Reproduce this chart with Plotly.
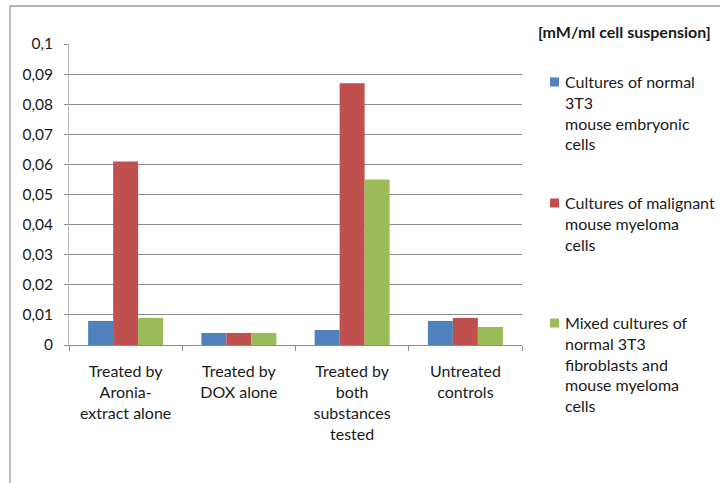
import plotly.graph_objects as go

categories = [
    "Treated by<br>Aronia-<br>extract alone",
    "Treated by<br>DOX alone",
    "Treated by<br>both<br>substances<br>tested",
    "Untreated<br>controls",
]
series_names = [
    "Cultures of normal<br>3T3<br>mouse embryonic<br>cells",
    "Cultures of malignant<br>mouse myeloma<br>cells",
    "Mixed cultures of<br>normal 3T3<br>fibroblasts and<br>mouse myeloma<br>cells",
]
normal_3t3 = [0.008, 0.004, 0.005, 0.008]
malignant_myeloma = [0.061, 0.004, 0.087, 0.009]
mixed_cultures = [0.009, 0.004, 0.055, 0.006]
series_values = [normal_3t3, malignant_myeloma, mixed_cultures]
colors = ["#4F81BD", "#C0504D", "#9BBB59"]

y_tickvals = [0, 0.01, 0.02, 0.03, 0.04, 0.05, 0.06, 0.07, 0.08, 0.09, 0.1]
y_ticktext = ["0", "0,01", "0,02", "0,03", "0,04", "0,05", "0,06", "0,07", "0,08", "0,09", "0,1"]
unit_label = "[mM/ml cell suspension]"

W, H = 720, 483
L, R, T, B = 69, 198, 44, 138
pw, ph = W - L - R, H - T - B

def px_x(x):
    return (x - L) / pw

def px_y(y):
    return (H - B - y) / ph

FONT = "Lato"
TEXT = "#1a1a1a"
GRID = "#8c8c8c"

fig = go.Figure()
for name, vals, col in zip(series_names, series_values, colors):
    fig.add_trace(go.Bar(x=categories, y=vals, name=name, marker_color=col,
                         marker_line_width=0, showlegend=False))

fig.update_layout(
    width=W, height=H,
    margin=dict(l=L, r=R, t=T, b=B),
    paper_bgcolor="white", plot_bgcolor="white",
    barmode="group", bargap=0.338, bargroupgap=0,
    font=dict(family=FONT, size=16, color=TEXT),
    xaxis=dict(showline=True, linecolor=GRID, linewidth=1,
               ticks="outside", tickson="boundaries", ticklen=5, tickcolor=GRID,
               ticklabelstandoff=12,
               tickfont=dict(family=FONT, size=16, color=TEXT), showgrid=False),
    yaxis=dict(range=[0, 0.1], tickvals=y_tickvals, ticktext=y_ticktext,
               showline=True, linecolor="#bdbdbd", linewidth=1,
               ticks="outside", ticklen=4, tickcolor=GRID, ticklabelstandoff=8,
               showgrid=True, gridcolor=GRID, gridwidth=1, zeroline=False,
               tickfont=dict(family=FONT, size=15.5, color=TEXT)),
)

# unit heading above the key
fig.add_annotation(text="<b>" + unit_label + "</b>", xref="paper", yref="paper",
                   x=px_x(536), y=px_y(32), xanchor="left", yanchor="middle",
                   showarrow=False, font=dict(family=FONT, size=16, color=TEXT))

# key: colour swatch plus series name for each series
key_centers = [82, 203, 323]
for name, col, cy in zip(series_names, colors, key_centers):
    fig.add_shape(type="rect", xref="paper", yref="paper",
                  x0=px_x(550), x1=px_x(559), y0=px_y(cy + 4.5), y1=px_y(cy - 4.5),
                  fillcolor=col, line=dict(width=0))
    fig.add_annotation(text=name, xref="paper", yref="paper",
                       x=px_x(563), y=px_y(cy - 12), xanchor="left", yanchor="top",
                       align="left", showarrow=False,
                       font=dict(family=FONT, size=16, color=TEXT))

# outer chart frame
fig.add_shape(type="rect", xref="paper", yref="paper",
              x0=px_x(10), x1=px_x(740), y0=px_y(500), y1=px_y(6),
              line=dict(color="#999999", width=1.3), fillcolor="rgba(0,0,0,0)",
              layer="below")

fig.write_html("out.html")
